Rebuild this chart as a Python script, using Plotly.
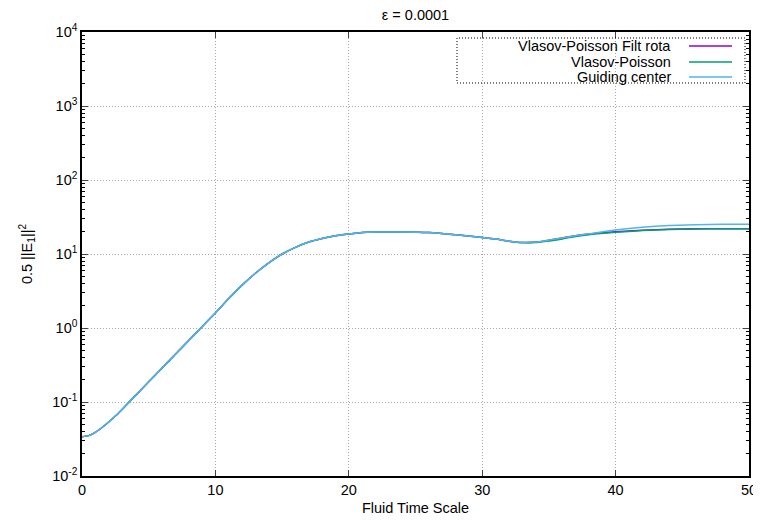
import plotly.graph_objects as go

# ---- data ----
time = [0, 0.5, 1, 1.5, 2, 2.5, 3, 4, 5, 6, 7, 8, 9, 10, 11, 12, 13, 14, 15, 16, 17, 18, 19,
        20, 21, 22, 24, 26, 28, 30, 31, 32, 33, 34, 35, 36, 37, 38, 40, 42, 44, 46, 48, 50]

guiding_center = [0.034, 0.0351, 0.0389, 0.0452, 0.0537, 0.0646, 0.0794, 0.122, 0.1875, 0.288,
                  0.442, 0.678, 1.04, 1.60, 2.5, 3.8, 5.5, 7.6, 10.0, 12.3, 14.5, 16.2, 17.6,
                  18.6, 19.5, 19.8, 19.9, 19.5, 18.2, 16.7, 15.9, 14.9, 14.3,
                  14.5, 15.4, 16.5, 17.7, 18.7, 21.1, 23.0, 24.3, 24.9, 25.2, 25.3]

vp_filt_rota = [0.034, 0.0351, 0.0389, 0.0452, 0.0537, 0.0646, 0.0794, 0.122, 0.1875, 0.288,
                0.442, 0.678, 1.04, 1.60, 2.5, 3.8, 5.5, 7.6, 10.0, 12.3, 14.5, 16.2, 17.6,
                18.6, 19.5, 19.8, 19.9, 19.5, 18.2, 16.7, 15.9, 14.9, 14.3,
                14.5, 15.4, 16.5, 17.7, 18.6, 20.0, 21.0, 21.6, 21.9, 22.0, 22.0]

vlasov_poisson = [0.034, 0.0351, 0.0389, 0.0452, 0.0537, 0.0646, 0.0794, 0.122, 0.1875, 0.288,
                  0.442, 0.678, 1.04, 1.60, 2.5, 3.8, 5.5, 7.6, 10.0, 12.3, 14.5, 16.2, 17.6,
                  18.6, 19.5, 19.8, 19.9, 19.5, 18.2, 16.7, 15.9, 14.9, 14.3,
                  14.3, 15.0, 16.0, 17.2, 18.2, 19.6, 20.7, 21.4, 21.8, 21.9, 22.0]

series_names = ["Vlasov-Poisson Filt rota", "Vlasov-Poisson", "Guiding center"]
series_colors = ["#9400d3", "#009e73", "#56b4e9"]
series_values = [vp_filt_rota, vlasov_poisson, guiding_center]

x_ticks = [0, 10, 20, 30, 40, 50]
y_exps = [-2, -1, 0, 1, 2, 3, 4]
y_tickvals = [10.0 ** e for e in y_exps]
y_ticktext = ["10<sup>%d</sup>" % e for e in y_exps]
y_minor = [m * 10.0 ** e for e in y_exps[:-1] for m in range(2, 10)]

FONT = "Liberation Sans, Arial, sans-serif"
FS = 14.5
DOTS = "1px,2px"

# page has an 8px body margin: the figure starts at (8, 8) in the window
OFF = 8
W, H = 761 - OFF, 526 - OFF
# plot area in window pixels
L, R, T, B = 82, 749, 32, 476

fig = go.Figure()
for name, color, vals in zip(series_names, series_colors, series_values):
    fig.add_trace(go.Scatter(x=time, y=vals, mode="lines", name=name,
                             line=dict(color=color, width=1.5, shape="spline", smoothing=0.6),
                             showlegend=False, hoverinfo="skip"))

def px(xp):
    return (xp - L) / (R - L)
def py(yp):
    return (B - yp) / (B - T)

# ---- gnuplot-style legend (text right, sample left) ----
legend_rows = [46, 62, 77]
for name, color, yr in zip(series_names, series_colors, legend_rows):
    fig.add_annotation(x=px(673), y=py(yr), xref="paper", yref="paper", text=name,
                       showarrow=False, xanchor="right", yanchor="middle",
                       font=dict(family=FONT, size=FS, color="black"))
    fig.add_shape(type="line", xref="paper", yref="paper",
                  x0=px(689), x1=px(732), y0=py(yr), y1=py(yr),
                  line=dict(color=color, width=1.5))
fig.add_shape(type="rect", xref="paper", yref="paper",
              x0=px(457), x1=px(745), y0=py(83), y1=py(38),
              line=dict(color="black", width=1, dash=DOTS))

fig.update_layout(
    width=W, height=H,
    margin=dict(l=L - OFF, r=W - (R - OFF), t=T - OFF, b=H - (B - OFF), autoexpand=False),
    paper_bgcolor="white", plot_bgcolor="white",
    font=dict(family=FONT, size=FS, color="black"),
    title=dict(text="ε = 0.0001", x=((L + R) / 2 - OFF) / W, xanchor="center",
               y=1 - 2 / H, yanchor="top", pad=dict(t=0, b=0),
               font=dict(family=FONT, size=FS, color="black")),
)

fig.update_xaxes(
    range=[0, 50], tickvals=x_ticks, ticks="inside", ticklen=6, automargin=False,
    showline=True, linecolor="black", linewidth=1.5, mirror="allticks",
    showgrid=True, gridcolor="#a8a8a8", griddash=DOTS, gridwidth=1,
    zeroline=False, tickfont=dict(family=FONT, size=FS),
    title=dict(text="Fluid Time Scale", standoff=6, font=dict(family=FONT, size=FS)),
)
fig.update_yaxes(
    type="log", range=[-2, 4], tickvals=y_tickvals, ticktext=y_ticktext,
    ticks="inside", ticklen=6, automargin=False,
    minor=dict(tickvals=y_minor, ticks="inside", ticklen=3, tickcolor="black", showgrid=False),
    showline=True, linecolor="black", linewidth=1.5, mirror="allticks",
    showgrid=True, gridcolor="#a8a8a8", griddash=DOTS, gridwidth=1,
    zeroline=False, tickfont=dict(family=FONT, size=FS),
    title=dict(text="0.5 ||E<sub>1</sub>||<sup>2</sup>", standoff=16,
               font=dict(family=FONT, size=FS)),
)

fig.write_html("out.html")
